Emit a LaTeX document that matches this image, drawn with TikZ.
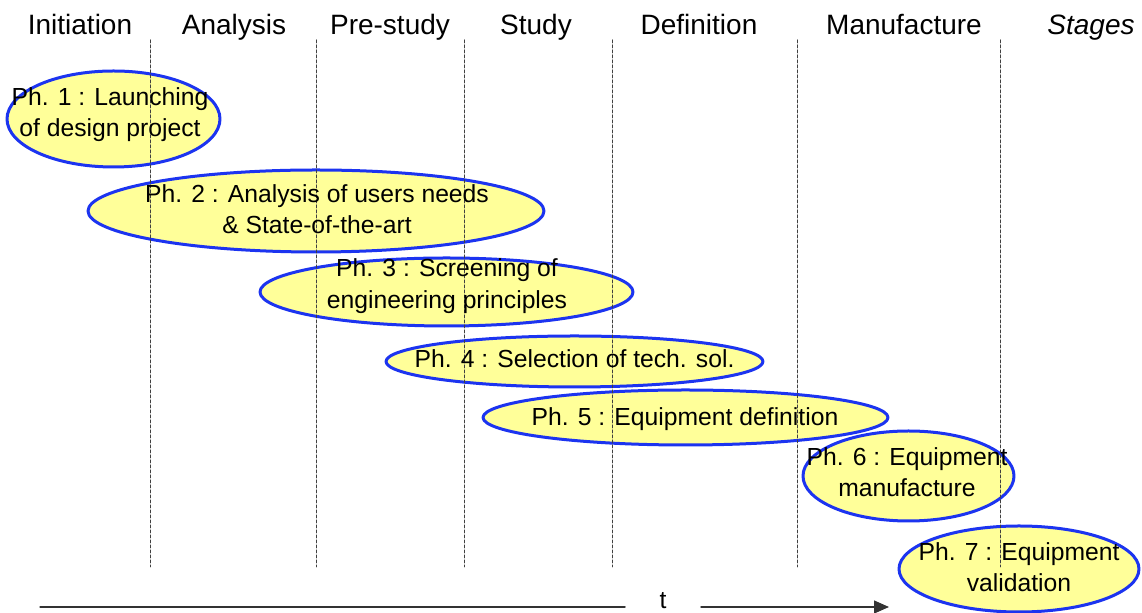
\documentclass[tikz,border=0pt]{standalone}
\usepackage{fontspec}
\setmainfont{Liberation Sans}
\usepackage{tikz}
\usetikzlibrary{arrows.meta,shapes.geometric}
\definecolor{phaseblue}{RGB}{28,52,240}
\definecolor{phasefill}{RGB}{255,255,153}
\begin{document}
\begin{tikzpicture}[line cap=round,line join=round,x=0.5pt,y=-0.5pt,
    phase/.style={ellipse,draw=phaseblue,fill=phasefill,line width=1.5pt,inner sep=0pt},
    phasetext/.style={align=center,inner sep=0pt,font=\fontsize{12.35pt}{15.7pt}\selectfont},
    stagelabel/.style={anchor=base,inner sep=0pt,font=\fontsize{14pt}{17pt}\selectfont},
    sepline/.style={line width=0.5pt,color=black!75,dash pattern=on 1.5pt off 1pt}]
                \useasboundingbox (0,0) rectangle (1142,613);
                \node[stagelabel] (s1) at (80,35) {Initiation};
                \node[stagelabel] (s2) at (234,35) {Analysis};
                \node[stagelabel] (s3) at (390,35) {Pre-study};
                \node[stagelabel] (s4) at (536,35) {Study};
                \node[stagelabel] (s5) at (699,35) {Definition};
                \node[stagelabel] (s6) at (904,35) {Manufacture};
                \node[stagelabel] (s7) at (1091,35) {\itshape Stages};
                \node[phase,minimum width=106.5pt,minimum height=48pt] (e1) at (113.5,119) {};
                \node[phase,minimum width=228pt,minimum height=41pt] (e2) at (316,211) {};
                \node[phase,minimum width=186.5pt,minimum height=34pt] (e3) at (446.5,292) {};
                \node[phase,minimum width=188.5pt,minimum height=25.5pt] (e4) at (574.5,361.5) {};
                \node[phase,minimum width=202.5pt,minimum height=27.5pt] (e5) at (685.5,417.5) {};
                \node[phase,minimum width=105.5pt,minimum height=45pt] (e6) at (908.5,476) {};
                \node[phase,minimum width=120pt,minimum height=43pt] (e7) at (1019,569) {};
                \foreach \sx in {150,316,464,612,797,1000}
                    \draw [sepline] (\sx,40) -- (\sx,567);
                \node[phasetext] (p1) at (110,114.5) {Ph. 1 : Launching\\of design project};
                \node[phasetext] (p2) at (317,209) {Ph. 2 : Analysis of users needs\\\& State-of-the-art};
                \node[phasetext] (p3) at (447,286) {Ph. 3 : Screening of\\engineering principles};
                \node[phasetext] (p4) at (574.5,359) {Ph. 4 : Selection of tech. sol.};
                \node[phasetext] (p5) at (685,419) {Ph. 5 : Equipment definition};
                \node[phasetext] (p6) at (907,472) {Ph. 6 : Equipment\\manufacture};
                \node[phasetext] (p7) at (1019,567) {Ph. 7 : Equipment\\validation};
                \coordinate (t0) at (40,607);
                \coordinate (t1) at (889,607);
                \node[phasetext,minimum width=37.5pt] (tl) at (663,601) {t};
                \draw [line width=0.6pt,color=black!80] (t0) -- (t0 -| tl.west);
                \draw [line width=0.6pt,color=black!80,-{Triangle[length=7.5pt,width=6.5pt]}] (t1 -| tl.east) -- (t1);
            \end{tikzpicture}
\end{document}
